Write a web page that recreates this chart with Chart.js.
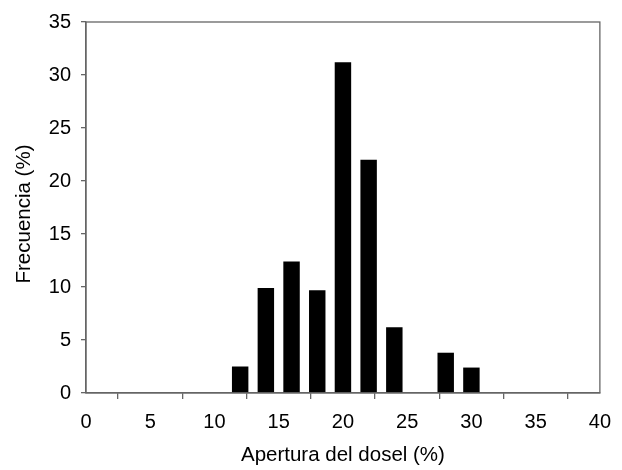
<!DOCTYPE html>
<html>
<head>
<meta charset="utf-8">
<script src="https://cdn.jsdelivr.net/npm/chart.js@4"></script>
<style>
  html, body { margin: 0; padding: 0; background: #fff; }
  #wrap { width: 622px; height: 470px; }
</style>
</head>
<body>
<div id="wrap"><canvas id="histChart" width="622" height="470"></canvas></div>
<script>
// apertura del dosel (%) - centro de cada clase
const classes = [12, 14, 16, 18, 20, 22, 24, 28, 30];
// frecuencia (%)
const freq = [2.5, 9.9, 12.4, 9.7, 31.2, 22.0, 6.2, 3.8, 2.4];

const xTicks = [0, 5, 10, 15, 20, 25, 30, 35, 40];
const yTicks = [0, 5, 10, 15, 20, 25, 30, 35];

const xTitle = 'Apertura del dosel (%)';
const yTitle = 'Frecuencia (%)';

const axisColor = '#666666';
const fontFamily = '"Liberation Sans", Arial, sans-serif';

// marco completo alrededor del area del grafico + titulo del eje y
const framePlugin = {
  id: 'frame',
  afterDraw(chart) {
    const { ctx, chartArea: a } = chart;
    ctx.save();
    ctx.strokeStyle = axisColor;
    ctx.lineWidth = 1.3;
    ctx.strokeRect(a.left, a.top, a.right - a.left, a.bottom - a.top);

    ctx.fillStyle = '#000';
    ctx.font = '20.5px ' + fontFamily;
    ctx.textAlign = 'center';
    ctx.textBaseline = 'middle';
    ctx.translate(24, 214);
    ctx.rotate(-Math.PI / 2);
    ctx.fillText(yTitle, 0, 0);
    ctx.restore();
  }
};

const ctx = document.getElementById('histChart').getContext('2d');

new Chart(ctx, {
  type: 'bar',
  data: {
    datasets: [{
      label: yTitle,
      data: classes.map((c, i) => ({ x: c, y: freq[i] })),
      backgroundColor: '#000',
      borderWidth: 0,
      categoryPercentage: 1,
      barPercentage: 0.64
    }]
  },
  options: {
    responsive: false,
    animation: false,
    layout: { padding: { top: 16, right: 12, left: 0, bottom: 0 } },
    plugins: {
      legend: { display: false },
      tooltip: { enabled: false }
    },
    scales: {
      x: {
        type: 'linear',
        offset: false,
        min: 0,
        max: 40,
        afterFit: (scale) => { scale.height = 77; },
        afterBuildTicks: (scale) => { scale.ticks = xTicks.map(v => ({ value: v })); },
        grid: {
          drawOnChartArea: false,
          drawTicks: true,
          tickLength: 6,
          color: axisColor,
          lineWidth: 1.3
        },
        border: { display: true, color: axisColor, width: 1.3 },
        ticks: {
          color: '#000',
          font: { family: fontFamily, size: 20 },
          padding: 11,
          maxRotation: 0,
          autoSkip: false
        },
        title: {
          display: true,
          text: xTitle,
          color: '#000',
          font: { family: fontFamily, size: 20.5 },
          padding: { top: 0, bottom: 2 }
        }
      },
      y: {
        min: 0,
        max: 35,
        afterFit: (scale) => { scale.width = 86; },
        afterBuildTicks: (scale) => { scale.ticks = yTicks.map(v => ({ value: v })); },
        grid: {
          drawOnChartArea: false,
          drawTicks: true,
          tickLength: 5,
          color: axisColor,
          lineWidth: 1.3
        },
        border: { display: true, color: axisColor, width: 1.3 },
        ticks: {
          color: '#000',
          font: { family: fontFamily, size: 20 },
          padding: 10
        }
      }
    }
  },
  plugins: [framePlugin]
});
</script>
</body>
</html>
